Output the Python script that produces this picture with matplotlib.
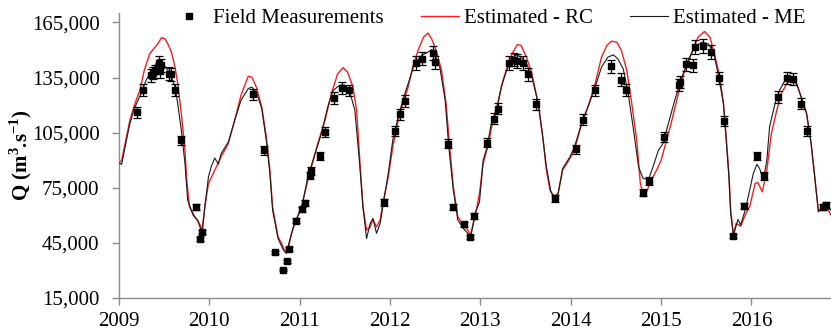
import numpy as np
import matplotlib
matplotlib.use("Agg")
import matplotlib.pyplot as plt
from matplotlib.lines import Line2D

# -------------------
# data (decimal year, Q in 1000 m3/s)
# -------------------
meas_t = [2009.20, 2009.27, 2009.35, 2009.38, 2009.40, 2009.44, 2009.45, 2009.47, 2009.55, 2009.58,
          2009.62, 2009.69, 2009.85, 2009.92, 2009.90, 2010.48, 2010.61, 2010.73, 2010.81, 2010.86,
          2010.88, 2010.96, 2011.02, 2011.06, 2011.11, 2011.12, 2011.23, 2011.28, 2011.38, 2011.47,
          2011.55, 2011.93, 2012.05, 2012.11, 2012.17, 2012.29, 2012.35, 2012.47, 2012.50, 2012.64,
          2012.70, 2012.82, 2012.89, 2012.93, 2013.07, 2013.15, 2013.20, 2013.32, 2013.37, 2013.40,
          2013.47, 2013.53, 2013.61, 2013.82, 2014.06, 2014.14, 2014.27, 2014.45, 2014.56, 2014.61,
          2014.80, 2014.87, 2015.03, 2015.20, 2015.21, 2015.27, 2015.35, 2015.38, 2015.46, 2015.55,
          2015.64, 2015.70, 2015.79, 2015.92, 2016.06, 2016.14, 2016.29, 2016.39, 2016.46, 2016.55,
          2016.61, 2016.79, 2016.83]
meas_q = [116.1, 128.4, 136.2, 137.4, 138.5, 143.1, 138.5, 141.6, 137.1, 136.7,
          128.4, 100.9, 64.6, 51.0, 47.2, 125.9, 95.4, 39.8, 30.2, 34.9,
          41.6, 57.0, 63.2, 66.6, 81.8, 84.2, 92.2, 105.2, 123.9, 129.5,
          128.0, 67.0, 105.8, 115.0, 122.2, 142.9, 145.3, 148.3, 143.4, 99.1,
          64.6, 55.2, 48.3, 59.6, 99.6, 112.7, 118.1, 142.9, 144.7, 144.0,
          142.9, 136.7, 120.4, 69.2, 96.0, 112.1, 128.0, 141.2, 133.9, 128.4,
          72.4, 78.7, 102.7, 131.1, 132.6, 142.2, 141.6, 151.6, 152.3, 149.1,
          134.9, 111.4, 48.7, 65.0, 92.2, 81.3, 124.4, 134.7, 134.4, 120.8,
          105.9, 64.3, 65.5]
rel_err = 0.025  # relative uncertainty of the measurements

rc_t = [2009.00, 2009.03, 2009.06, 2009.12, 2009.17, 2009.23, 2009.28, 2009.34, 2009.40, 2009.43,
        2009.47, 2009.51, 2009.54, 2009.58, 2009.62, 2009.65, 2009.69, 2009.73, 2009.75, 2009.78,
        2009.84, 2009.89, 2009.92, 2009.95, 2009.99, 2010.06, 2010.13, 2010.21, 2010.28, 2010.35,
        2010.43, 2010.47, 2010.52, 2010.58, 2010.63, 2010.67, 2010.70, 2010.76, 2010.80, 2010.83,
        2010.87, 2010.91, 2010.96, 2011.02, 2011.09, 2011.15, 2011.20, 2011.28, 2011.35, 2011.42,
        2011.48, 2011.53, 2011.59, 2011.63, 2011.66, 2011.70, 2011.74, 2011.78, 2011.81, 2011.85,
        2011.89, 2011.92, 2011.98, 2012.03, 2012.09, 2012.14, 2012.20, 2012.25, 2012.31, 2012.37,
        2012.42, 2012.46, 2012.51, 2012.57, 2012.62, 2012.66, 2012.70, 2012.75, 2012.81, 2012.86,
        2012.89, 2012.94, 2012.99, 2013.03, 2013.08, 2013.14, 2013.20, 2013.25, 2013.31, 2013.36,
        2013.41, 2013.45, 2013.51, 2013.57, 2013.64, 2013.69, 2013.73, 2013.77, 2013.82, 2013.86,
        2013.91, 2013.99, 2014.04, 2014.12, 2014.19, 2014.27, 2014.34, 2014.40, 2014.45, 2014.51,
        2014.56, 2014.62, 2014.67, 2014.73, 2014.77, 2014.80, 2014.84, 2014.89, 2014.95, 2015.00,
        2015.04, 2015.11, 2015.19, 2015.26, 2015.34, 2015.41, 2015.48, 2015.54, 2015.59, 2015.65,
        2015.69, 2015.72, 2015.75, 2015.77, 2015.80, 2015.83, 2015.88, 2015.93, 2015.98, 2016.04,
        2016.07, 2016.12, 2016.17, 2016.22, 2016.28, 2016.33, 2016.39, 2016.44, 2016.50, 2016.55,
        2016.61, 2016.66, 2016.70, 2016.74, 2016.79, 2016.85, 2016.88]
rc_q = [88.5, 90.0, 97.2, 111.7, 119.9, 128.0, 138.9, 148.0, 151.6, 153.4,
        156.7, 156.1, 153.4, 148.9, 140.7, 131.7, 115.4, 95.4, 79.1, 64.6,
        59.2, 55.6, 52.0, 64.6, 77.3, 84.6, 91.8, 99.1, 111.7, 125.3,
        135.7, 135.3, 129.8, 119.0, 102.7, 84.6, 64.6, 48.3, 44.7, 41.1,
        41.1, 50.2, 57.4, 64.6, 79.1, 90.0, 99.1, 111.7, 126.2, 137.1,
        140.4, 138.0, 129.8, 117.2, 93.6, 64.6, 52.0, 53.7, 57.8, 53.7,
        57.4, 66.5, 80.9, 97.2, 111.7, 120.8, 129.8, 140.7, 149.8, 157.0,
        159.2, 156.1, 149.8, 138.9, 120.8, 97.2, 75.5, 59.2, 54.7, 52.0,
        49.2, 59.2, 71.9, 88.2, 97.2, 111.7, 122.6, 133.5, 142.6, 148.9,
        153.0, 152.5, 146.1, 137.1, 120.8, 102.7, 84.6, 73.7, 70.1, 71.9,
        84.6, 90.9, 95.4, 109.9, 119.0, 131.7, 146.1, 152.5, 154.8, 154.3,
        149.8, 138.9, 122.6, 100.9, 77.3, 71.9, 72.8, 79.1, 84.6, 90.0,
        97.2, 109.9, 126.2, 138.9, 148.9, 157.0, 160.1, 157.0, 148.0, 135.3,
        120.8, 102.7, 82.8, 62.8, 49.2, 55.6, 54.1, 60.1, 64.6, 77.3,
        77.9, 72.8, 84.6, 104.5, 117.2, 126.2, 131.7, 133.5, 131.7, 124.4,
        115.4, 99.1, 80.9, 62.8, 63.7, 62.8, 60.1]

me_t = [2009.00, 2009.03, 2009.06, 2009.12, 2009.17, 2009.25, 2009.30, 2009.36, 2009.41, 2009.45,
        2009.50, 2009.54, 2009.58, 2009.62, 2009.65, 2009.69, 2009.73, 2009.76, 2009.82, 2009.87,
        2009.92, 2009.95, 2009.99, 2010.02, 2010.06, 2010.10, 2010.13, 2010.21, 2010.28, 2010.35,
        2010.43, 2010.47, 2010.52, 2010.58, 2010.63, 2010.67, 2010.70, 2010.76, 2010.82, 2010.85,
        2010.89, 2010.94, 2011.02, 2011.09, 2011.17, 2011.24, 2011.31, 2011.37, 2011.44, 2011.50,
        2011.55, 2011.61, 2011.66, 2011.70, 2011.74, 2011.78, 2011.81, 2011.85, 2011.89, 2011.92,
        2011.98, 2012.03, 2012.09, 2012.14, 2012.20, 2012.27, 2012.35, 2012.42, 2012.46, 2012.49,
        2012.55, 2012.61, 2012.65, 2012.70, 2012.75, 2012.81, 2012.86, 2012.89, 2012.94, 2012.99,
        2013.03, 2013.07, 2013.12, 2013.18, 2013.23, 2013.29, 2013.34, 2013.40, 2013.45, 2013.51,
        2013.57, 2013.64, 2013.69, 2013.73, 2013.78, 2013.82, 2013.86, 2013.91, 2013.99, 2014.04,
        2014.12, 2014.19, 2014.27, 2014.34, 2014.41, 2014.47, 2014.52, 2014.58, 2014.63, 2014.69,
        2014.75, 2014.80, 2014.86, 2014.91, 2014.97, 2015.02, 2015.08, 2015.15, 2015.23, 2015.30,
        2015.37, 2015.45, 2015.52, 2015.58, 2015.63, 2015.69, 2015.72, 2015.75, 2015.77, 2015.80,
        2015.85, 2015.88, 2015.93, 2015.98, 2016.02, 2016.06, 2016.09, 2016.13, 2016.17, 2016.20,
        2016.26, 2016.31, 2016.37, 2016.44, 2016.50, 2016.55, 2016.61, 2016.66, 2016.70, 2016.74,
        2016.79, 2016.85, 2016.88]
me_q = [88.5, 87.8, 95.4, 109.9, 118.1, 127.1, 133.5, 138.9, 142.6, 143.4,
        141.6, 138.9, 135.3, 129.8, 120.8, 106.3, 88.2, 68.3, 60.1, 57.4,
        50.2, 64.6, 80.9, 86.4, 91.2, 87.8, 93.6, 99.9, 111.7, 122.6,
        129.0, 129.8, 127.1, 118.1, 100.9, 82.8, 62.8, 47.4, 41.1, 39.3,
        46.5, 55.6, 63.7, 80.9, 93.6, 104.5, 119.0, 128.0, 130.8, 130.8,
        128.0, 117.2, 90.0, 64.6, 47.4, 55.6, 58.3, 50.2, 55.6, 64.6,
        82.8, 100.9, 113.5, 122.6, 131.7, 142.6, 147.1, 148.9, 150.2, 148.0,
        140.7, 122.6, 97.2, 73.7, 57.4, 52.9, 50.2, 47.4, 61.0, 67.3,
        90.0, 96.4, 109.9, 117.2, 129.8, 138.9, 144.3, 147.4, 146.1, 142.6,
        135.3, 120.8, 102.7, 86.4, 72.8, 69.2, 71.9, 85.5, 91.8, 97.2,
        109.9, 119.0, 129.8, 140.7, 146.1, 147.4, 145.3, 139.8, 128.0, 108.1,
        86.4, 80.1, 79.5, 86.4, 95.4, 99.1, 109.9, 122.6, 135.3, 144.3,
        151.6, 154.3, 153.4, 148.9, 137.1, 120.8, 100.9, 80.9, 61.0, 49.2,
        57.8, 54.7, 62.8, 73.7, 82.8, 87.8, 85.5, 79.1, 90.0, 108.1,
        120.8, 128.0, 133.5, 133.9, 131.7, 124.4, 115.4, 99.1, 80.9, 61.9,
        64.3, 63.7, 62.8]

years = [2009, 2010, 2011, 2012, 2013, 2014, 2015, 2016]
q_ticks = [15000, 45000, 75000, 105000, 135000, 165000]

# -------------------
# style
# -------------------
plt.rcParams['font.family'] = ['Liberation Serif', 'DejaVu Serif']
plt.rcParams['font.size'] = 15
plt.rcParams['mathtext.fontset'] = 'custom'
plt.rcParams['mathtext.rm'] = 'Liberation Serif'
plt.rcParams['mathtext.bf'] = 'Liberation Serif:bold'

AX_COLOR = '#8c8c8c'
RED = '#ff1a1a'
BLACK = '#1a1a1a'

fig = plt.figure(figsize=(8.31, 3.32), dpi=100)
ax = fig.add_axes([0.1432, 0.1024, 0.8568, 0.8576])

meas_q_abs = np.array(meas_q) * 1000
ax.errorbar(meas_t, meas_q_abs, yerr=meas_q_abs * rel_err, fmt='s', color='black',
            markersize=3.8, ecolor='black', elinewidth=0.9, capsize=3.0, capthick=0.9,
            zorder=4)
ax.plot(rc_t, np.array(rc_q) * 1000, color=RED, linewidth=1.0, zorder=2)
ax.plot(me_t, np.array(me_q) * 1000, color=BLACK, linewidth=0.8, zorder=3)

ax.set_xlim(2009, 2016.88)
ax.set_ylim(15000, 170000)
ax.set_xticks(years)
ax.set_xticklabels([str(y) for y in years])
ax.set_yticks(q_ticks)
ax.set_yticklabels([f'{v:,}' for v in q_ticks])
ax.set_ylabel(r'Q (m$^\mathbf{3}$.s$^\mathbf{-1}$)', fontweight='bold', labelpad=-2)

for side in ['top', 'right']:
    ax.spines[side].set_visible(False)
for side in ['left', 'bottom']:
    ax.spines[side].set_color(AX_COLOR)
    ax.spines[side].set_linewidth(1.0)
ax.tick_params(axis='both', direction='out', length=5, width=1.0, color=AX_COLOR)
ax.tick_params(axis='y', pad=9)
ax.tick_params(axis='x', pad=5)

# legend proxies (square marker only, no error bar)
handles = [Line2D([], [], linestyle='none', marker='s', markersize=3.8, color='black'),
           Line2D([], [], color=RED, linewidth=1.0),
           Line2D([], [], color=BLACK, linewidth=0.8)]
labels = ['Field Measurements', 'Estimated - RC', 'Estimated - ME']
ax.legend(handles, labels, loc='upper center', bbox_to_anchor=(0.518, 1.045), ncol=3,
          frameon=False, handlelength=1.8, handletextpad=0.25, columnspacing=1.8,
          borderaxespad=0.0)

fig.savefig('out.png', dpi=100)
